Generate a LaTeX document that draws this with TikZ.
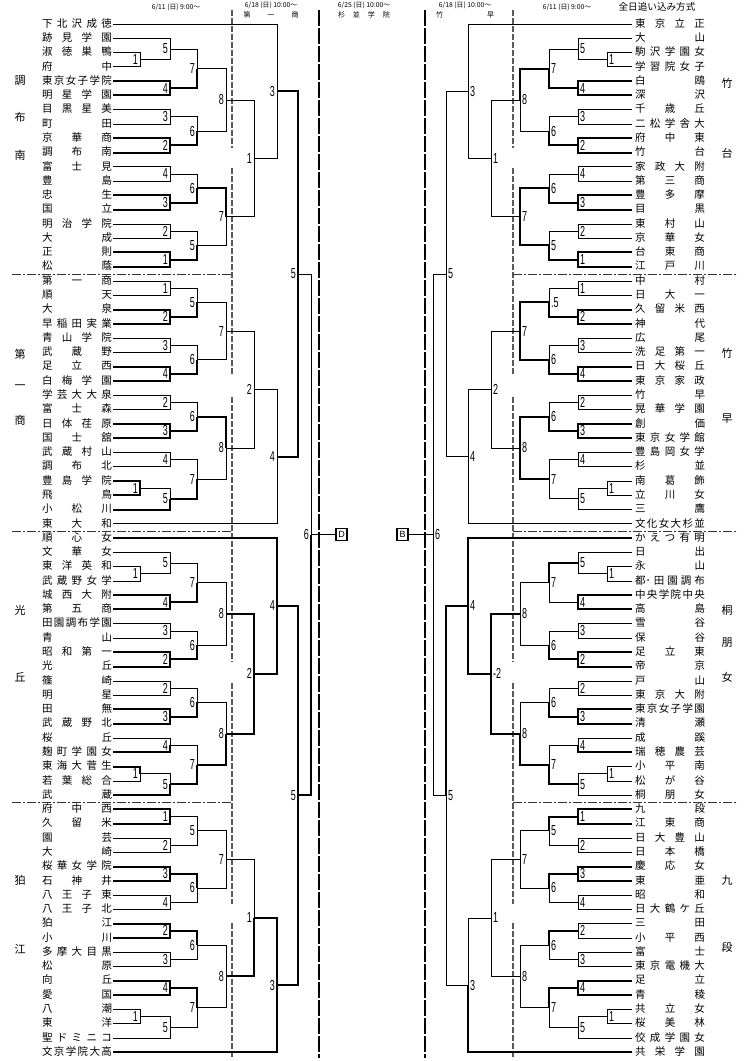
\documentclass[tikz,border=0pt]{standalone}
\usepackage{fontspec}
\setmainfont{Liberation Sans}
\newfontfamily\jp{Noto Sans CJK JP}
\newfontfamily\numf[FakeStretch=0.62]{Liberation Sans}
\usetikzlibrary{calc}
\def\nmEnd{}
\def\nmA#1#2\nmEnd{#1\ifx\relax#2\relax\else\hfil\nmA#2\nmEnd\fi}
\newcommand\nm[1]{\makebox[70pt][s]{\expandafter\nmA#1\nmEnd}}
\newcommand\mL[7]{%
  \coordinate (#1-m) at ($(#3)!0.5!(#4)$);
  \coordinate (#1) at (#2 |- #1-m);
  \draw[#5] (#3) -- (#3 -| #2) -- (#1);
  \draw[#6] (#4) -- (#4 -| #2) -- (#1);
  \node[lab,anchor=east] (#1-l) at ([xshift=-2pt]#1) {#7};}
\newcommand\mR[7]{%
  \coordinate (#1-m) at ($(#3)!0.5!(#4)$);
  \coordinate (#1) at (#2 |- #1-m);
  \draw[#5] (#3) -- (#3 -| #2) -- (#1);
  \draw[#6] (#4) -- (#4 -| #2) -- (#1);
  \node[lab,anchor=west] (#1-l) at ([xshift=2pt]#1) {#7};}
\begin{document}
\begin{tikzpicture}[x=1pt,y=-1pt,
  tn/.style={line width=0.7pt},
  tk/.style={line width=2pt},
  nmstyle/.style={inner sep=0pt,text height=7.7pt,text depth=1.3pt,font=\jp\fontsize{10.5}{10.5}\selectfont},
  dl/.style={inner sep=0pt,font=\jp\fontsize{11}{11}\selectfont},
  lab/.style={inner sep=0pt,font=\numf\fontsize{14.5}{14.5}\selectfont},
  hd/.style={inner sep=0pt,font=\jp\fontsize{6.8}{6.8}\selectfont},
  hdb/.style={inner sep=0pt,font=\jp\fontsize{7}{7}\selectfont},
  dsh/.style={line width=1.1pt,black!65,dash pattern=on 6pt off 2pt},
  tdsh/.style={line width=2pt,dash pattern=on 16pt off 2pt},
  sep/.style={line width=0.9pt,black!80,dash pattern=on 9pt off 2pt on 2pt off 2pt},
  bx/.style={draw,line width=1.3pt,minimum width=11pt,minimum height=12pt,inner sep=0pt,font=\fontsize{9}{9}\selectfont}]
\useasboundingbox (0,0) rectangle (750,1061);
\fill[white] (0,0) rectangle (750,1061);
% level coordinates
\foreach \cn/\xx in {LA/140,LB/170,LC/197,LD/226,LE/254,LF/277,LG/298,LH/311,RA/607,RB/578,RC/549,RD/520,RE/491,RF/468,RG/446,RH/433,XD/341.5,XB/402.5}
  \coordinate (\cn) at (\xx,0);
% headers
\node[hd] (h1) at (176,7) {6/11 (日) 9:00～};
\node[hd] (h2) at (271,5) {6/18 (日) 10:00～};
\node[hdb] (h2b) at (271,15) {\makebox[55pt][s]{第 一 商}};
\node[hd] (h3) at (364,5) {6/25 (日) 10:00～};
\node[hdb] (h3b) at (364,15) {\makebox[52pt][s]{杉 並 学 院}};
\node[hd] (h4) at (465,5) {6/18 (日) 10:00～};
\node[hdb] (h4b) at (465,15) {\makebox[58pt][s]{竹 早}};
\node[hd] (h5) at (567,7) {6/11 (日) 9:00～};
\node[inner sep=0pt,font=\jp\fontsize{9.6}{9.6}\selectfont] (h6) at (657,7) {全日追い込み方式};
% district labels
\node[dl] (dl1) at (20,81) {調};
\node[dl] (dl2) at (20,117) {布};
\node[dl] (dl3) at (20,155) {南};
\node[dl] (dl4) at (20,354) {第};
\node[dl] (dl5) at (20,387) {一};
\node[dl] (dl6) at (20,420) {商};
\node[dl] (dl7) at (20,610) {光};
\node[dl] (dl8) at (20,677) {丘};
\node[dl] (dl9) at (20,880) {狛};
\node[dl] (dl10) at (20,949) {江};
\node[dl] (dr1) at (727,83) {竹};
\node[dl] (dr2) at (727,153) {台};
\node[dl] (dr3) at (727,353) {竹};
\node[dl] (dr4) at (727,419) {早};
\node[dl] (dr5) at (727,610) {桐};
\node[dl] (dr6) at (727,643) {朋};
\node[dl] (dr7) at (727,677) {女};
\node[dl] (dr8) at (727,880) {九};
\node[dl] (dr9) at (727,947) {段};
% dashed guide lines
\foreach \a/\b in {10/148,168/375,397/662,683/904,923/1058} {
  \draw[dsh] (232,\a) -- (232,\b);
  \draw[dsh] (513,\a) -- (513,\b);}
\draw[tdsh] (319,10) -- (319,1058);
\draw[tdsh] (425,10) -- (425,1058);
\foreach \yy in {274,531,802} {
  \draw[sep] (12,\yy) -- (232,\yy);
  \draw[sep] (513,\yy) -- (738,\yy);}
% names
\foreach \n [count=\i from 0] in {下北沢成徳,跡見学園,淑徳巣鴨,府中,東京女子学院,明星学園,目黒星美,町田,京華商,調布南,富士見,豊島,忠生,国立,明治学院,大成,正則,松蔭,第一商,順天,大泉,早稲田実業,青山学院,武蔵野,足立西,白梅学園,学芸大大泉,富士森,日体荏原,国士舘,武蔵村山,調布北,豊島学院,飛鳥,小松川,東大和,順心女,文華女,東洋英和,武蔵野女学,城西大附,第五商,田園調布学園,青山,昭和第一,光丘,篠崎,明星,田無,武蔵野北,桜丘,麹町学園女,東海大菅生,若葉総合,武蔵,府中西,久留米,園芸,大崎,桜華女学院,石神井,八王子東,八王子北,狛江,小川,多摩大目黒,松原,向丘,愛国,八潮,東洋,聖ドミニコ,文京学院大高} {
  \coordinate (L\i) at (113,{24+14.28*\i});
  \node[nmstyle] (nL\i) at (77,{24+14.28*\i}) {\nm{\n}};}
\foreach \n [count=\i from 0] in {東京立正,大山,駒沢学園女,学習院女子,白鴎,深沢,千歳丘,二松学舎大,府中東,竹台,家政大附,第三商,豊多摩,目黒,東村山,京華女,台東商,江戸川,中村,日大一,久留米西,神代,広尾,洗足第一,日大桜丘,東京家政,竹早,晃華学園,創価,東京女学館,豊島岡女学,杉並,南葛飾,立川女,三鷹,文化女大杉並,かえつ有明,日出,永山,{都･}田園調布,中央学院中央,高島,雪谷,保谷,足立東,帝京,戸山,東京大附,東京女子学園,清瀬,成蹊,瑞穂農芸,小平南,松が谷,桐朋女,九段,江東商,日大豊山,日本橋,慶応女,東亜,昭和,日大鶴ケ丘,三田,小平西,富士,東京電機大,足立,青稜,共立女,桜美林,佼成学園女,共栄学園} {
  \coordinate (R\i) at (632,{24+14.28*\i});
  \node[nmstyle] (nR\i) at (670,{24+14.28*\i}) {\nm{\n}};}
% ---------- LEFT ----------
\mL{a1}{LA}{L2}{L3}{tn}{tn}{1}
\mL{a5}{LB}{L1}{a1}{tn}{tn}{5}
\mL{a4}{LB}{L4}{L5}{tk}{tk}{4}
\mL{a7}{LC}{a5}{a4}{tn}{tk}{7}
\mL{a3}{LB}{L6}{L7}{tn}{tn}{3}
\mL{a2}{LB}{L8}{L9}{tk}{tk}{2}
\mL{a6}{LC}{a3}{a2}{tn}{tk}{6}
\mL{a8}{LD}{a7}{a6}{tn}{tn}{8}
\mL{b4}{LB}{L10}{L11}{tn}{tn}{4}
\mL{b3}{LB}{L12}{L13}{tk}{tk}{3}
\mL{b6}{LC}{b4}{b3}{tn}{tk}{6}
\mL{b2}{LB}{L14}{L15}{tn}{tn}{2}
\mL{b1}{LB}{L16}{L17}{tk}{tk}{1}
\mL{b5}{LC}{b2}{b1}{tn}{tk}{5}
\mL{b7}{LD}{b6}{b5}{tk}{tn}{7}
\mL{c1}{LB}{L18}{L19}{tn}{tn}{1}
\mL{c2}{LB}{L20}{L21}{tk}{tk}{2}
\mL{c5}{LC}{c1}{c2}{tn}{tk}{5}
\mL{c3}{LB}{L22}{L23}{tn}{tn}{3}
\mL{c4}{LB}{L24}{L25}{tk}{tk}{4}
\mL{c6}{LC}{c3}{c4}{tn}{tk}{6}
\mL{c7}{LD}{c5}{c6}{tn}{tn}{7}
\mL{d2}{LB}{L26}{L27}{tn}{tn}{2}
\mL{d3}{LB}{L28}{L29}{tk}{tk}{3}
\mL{d6}{LC}{d2}{d3}{tn}{tk}{6}
\mL{d4}{LB}{L30}{L31}{tn}{tn}{4}
\mL{d1}{LA}{L32}{L33}{tk}{tk}{1}
\mL{d5}{LB}{d1}{L34}{tn}{tk}{5}
\mL{d7}{LC}{d4}{d5}{tn}{tk}{7}
\mL{d8}{LD}{d6}{d7}{tk}{tn}{8}
\mL{e1}{LA}{L38}{L39}{tn}{tn}{1}
\mL{e5}{LB}{L37}{e1}{tn}{tn}{5}
\mL{e4}{LB}{L40}{L41}{tk}{tk}{4}
\mL{e7}{LC}{e5}{e4}{tn}{tk}{7}
\mL{e3}{LB}{L42}{L43}{tn}{tn}{3}
\mL{e2}{LB}{L44}{L45}{tk}{tk}{2}
\mL{e6}{LC}{e3}{e2}{tn}{tk}{6}
\mL{e8}{LD}{e7}{e6}{tn}{tn}{8}
\mL{f2}{LB}{L46}{L47}{tn}{tn}{2}
\mL{f3}{LB}{L48}{L49}{tk}{tk}{3}
\mL{f6}{LC}{f2}{f3}{tn}{tk}{6}
\mL{f4}{LB}{L50}{L51}{tn}{tk}{4}
\mL{f1}{LA}{L52}{L53}{tk}{tn}{1}
\mL{f5}{LB}{f1}{L54}{tn}{tk}{5}
\mL{f7}{LC}{f4}{f5}{tn}{tk}{7}
\mL{f8}{LD}{f6}{f7}{tn}{tk}{8}
\mL{g1}{LB}{L55}{L56}{tk}{tk}{1}
\mL{g2}{LB}{L57}{L58}{tn}{tn}{2}
\mL{g5}{LC}{g1}{g2}{tn}{tn}{5}
\mL{g3}{LB}{L59}{L60}{tk}{tk}{3}
\mL{g4}{LB}{L61}{L62}{tn}{tn}{4}
\mL{g6}{LC}{g3}{g4}{tk}{tn}{6}
\mL{g7}{LD}{g5}{g6}{tn}{tn}{7}
\mL{h2}{LB}{L63}{L64}{tk}{tk}{2}
\mL{h3}{LB}{L65}{L66}{tn}{tn}{3}
\mL{h6}{LC}{h2}{h3}{tk}{tn}{6}
\mL{h4}{LB}{L67}{L68}{tk}{tk}{4}
\mL{h1}{LA}{L69}{L70}{tn}{tn}{1}
\mL{h5}{LB}{h1}{L71}{tn}{tn}{5}
\mL{h7}{LC}{h4}{h5}{tk}{tn}{7}
\mL{h8}{LD}{h6}{h7}{tn}{tn}{8}
\mL{A1}{LE}{a8}{b7}{tn}{tn}{1}
\mL{A3}{LF}{L0}{A1}{tn}{tn}{3}
\mL{A2}{LE}{c7}{d8}{tn}{tn}{2}
\mL{A4}{LF}{A2}{L35}{tn}{tn}{4}
\mL{A5}{LG}{A3}{A4}{tk}{tk}{5}
\mL{C2}{LE}{e8}{f8}{tk}{tk}{2}
\mL{C4}{LF}{L36}{C2}{tk}{tk}{4}
\mL{C1}{LE}{g7}{h8}{tn}{tk}{1}
\mL{C3}{LF}{C1}{L72}{tk}{tk}{3}
\mL{C5}{LG}{C4}{C3}{tk}{tk}{5}
\mL{F}{LH}{A5}{C5}{tn}{tk}{6}
% ---------- RIGHT ----------
\mR{p1}{RA}{R2}{R3}{tn}{tn}{1}
\mR{p5}{RB}{R1}{p1}{tn}{tn}{5}
\mR{p4}{RB}{R4}{R5}{tk}{tk}{4}
\mR{p7}{RC}{p5}{p4}{tn}{tk}{7}
\mR{p3}{RB}{R6}{R7}{tn}{tn}{3}
\mR{p2}{RB}{R8}{R9}{tk}{tk}{2}
\mR{p6}{RC}{p3}{p2}{tn}{tk}{6}
\mR{p8}{RD}{p7}{p6}{tk}{tn}{8}
\mR{q4}{RB}{R10}{R11}{tn}{tn}{4}
\mR{q3}{RB}{R12}{R13}{tk}{tk}{3}
\mR{q6}{RC}{q4}{q3}{tn}{tk}{6}
\mR{q2}{RB}{R14}{R15}{tn}{tn}{2}
\mR{q1}{RB}{R16}{R17}{tk}{tk}{1}
\mR{q5}{RC}{q2}{q1}{tn}{tk}{5}
\mR{q7}{RD}{q6}{q5}{tk}{tk}{7}
\mR{r1}{RB}{R18}{R19}{tn}{tn}{1}
\mR{r2}{RB}{R20}{R21}{tk}{tk}{2}
\mR{r5}{RC}{r1}{r2}{tn}{tk}{.5}
\mR{r3}{RB}{R22}{R23}{tn}{tn}{3}
\mR{r4}{RB}{R24}{R25}{tk}{tk}{4}
\mR{r6}{RC}{r3}{r4}{tn}{tk}{6}
\mR{r7}{RD}{r5}{r6}{tk}{tk}{7}
\mR{s2}{RB}{R26}{R27}{tn}{tn}{2}
\mR{s3}{RB}{R28}{R29}{tk}{tk}{3}
\mR{s6}{RC}{s2}{s3}{tn}{tk}{6}
\mR{s4}{RB}{R30}{R31}{tn}{tn}{4}
\mR{s1}{RA}{R32}{R33}{tn}{tn}{1}
\mR{s5}{RB}{s1}{R34}{tn}{tn}{5}
\mR{s7}{RC}{s4}{s5}{tn}{tn}{7}
\mR{s8}{RD}{s6}{s7}{tk}{tk}{8}
\mR{t1}{RA}{R38}{R39}{tn}{tn}{1}
\mR{t5}{RB}{R37}{t1}{tn}{tn}{5}
\mR{t4}{RB}{R40}{R41}{tk}{tk}{4}
\mR{t7}{RC}{t5}{t4}{tk}{tn}{7}
\mR{t3}{RB}{R42}{R43}{tn}{tn}{3}
\mR{t2}{RB}{R44}{R45}{tk}{tk}{2}
\mR{t6}{RC}{t3}{t2}{tn}{tk}{6}
\mR{t8}{RD}{t7}{t6}{tn}{tn}{8}
\mR{u2}{RB}{R46}{R47}{tn}{tn}{2}
\mR{u3}{RB}{R48}{R49}{tk}{tk}{3}
\mR{u6}{RC}{u2}{u3}{tn}{tk}{6}
\mR{u4}{RB}{R50}{R51}{tn}{tk}{4}
\mR{u1}{RA}{R52}{R53}{tn}{tn}{1}
\mR{u5}{RB}{u1}{R54}{tn}{tn}{5}
\mR{u7}{RC}{u4}{u5}{tn}{tk}{7}
\mR{u8}{RD}{u6}{u7}{tn}{tk}{8}
\mR{v1}{RB}{R55}{R56}{tk}{tk}{1}
\mR{v2}{RB}{R57}{R58}{tn}{tn}{2}
\mR{v5}{RC}{v1}{v2}{tk}{tn}{5}
\mR{v3}{RB}{R59}{R60}{tk}{tk}{3}
\mR{v4}{RB}{R61}{R62}{tn}{tn}{4}
\mR{v6}{RC}{v3}{v4}{tk}{tn}{6}
\mR{v7}{RD}{v5}{v6}{tn}{tn}{7}
\mR{w2}{RB}{R63}{R64}{tn}{tn}{2}
\mR{w3}{RB}{R65}{R66}{tn}{tn}{3}
\mR{w6}{RC}{w2}{w3}{tk}{tn}{6}
\mR{w4}{RB}{R67}{R68}{tk}{tk}{4}
\mR{w1}{RA}{R69}{R70}{tn}{tn}{1}
\mR{w5}{RB}{w1}{R71}{tn}{tn}{5}
\mR{w7}{RC}{w4}{w5}{tk}{tn}{7}
\mR{w8}{RD}{w6}{w7}{tn}{tn}{8}
\mR{P1}{RE}{p8}{q7}{tn}{tn}{1}
\mR{P3}{RF}{R0}{P1}{tn}{tn}{3}
\mR{P2}{RE}{r7}{s8}{tn}{tn}{2}
\mR{P4}{RF}{P2}{R35}{tn}{tn}{4}
\mR{P5}{RG}{P3}{P4}{tn}{tn}{5}
\mR{Q2}{RE}{t8}{u8}{tk}{tk}{-2}
\mR{Q4}{RF}{R36}{Q2}{tk}{tk}{4}
\mR{Q1}{RE}{v7}{w8}{tn}{tn}{1}
\mR{Q3}{RF}{Q1}{R72}{tn}{tk}{3}
\mR{Q5}{RG}{Q4}{Q3}{tk}{tn}{5}
\mR{G}{RH}{P5}{Q5}{tn}{tn}{6}
% final boxes
\node[bx,fill=white] (D) at (F -| XD) {D};
\draw[tn] (F) -- (D.west);
\node[bx,fill=white] (B) at (G -| XB) {B};
\draw[tn] (G) -- (B.east);
\end{tikzpicture}
\end{document}
